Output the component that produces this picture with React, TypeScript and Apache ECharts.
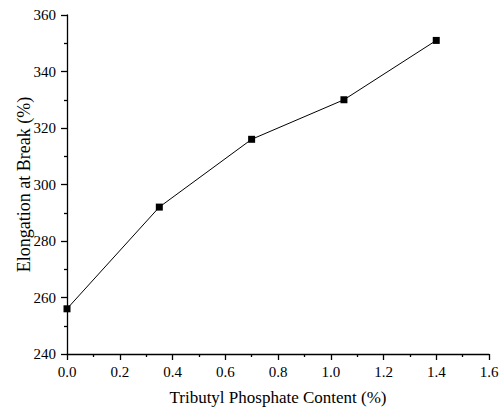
import React, { useEffect, useRef } from "react";
import * as echarts from "echarts";

const xValues = [0.0, 0.35, 0.7, 1.05, 1.4];
const yValues = [256, 292, 316, 330, 351];
const xAxisName = "Tributyl Phosphate Content (%)";
const yAxisName = "Elongation at Break (%)";

export default function App() {
  const ref = useRef<HTMLDivElement>(null);
  useEffect(() => {
    if (!ref.current) return;
    const chart = echarts.init(ref.current, null, { renderer: "svg" });
    const font = "Liberation Serif, Times New Roman, serif";
    const axisCommon = {
      axisLine: { show: true, lineStyle: { color: "#000", width: 1.3 } },
      axisTick: { show: true, inside: false, length: 6, lineStyle: { color: "#000", width: 1.3 } },
      minorTick: { show: true, splitNumber: 2, length: 3, lineStyle: { color: "#000", width: 1.3 } },
      splitLine: { show: false },
      nameMoveOverlap: false,
    };
    chart.setOption({
      animation: false,
      backgroundColor: "#fff",
      textStyle: { fontFamily: font },
      grid: { left: 67, right: 12, top: 15, bottom: 54, outerBoundsMode: "none" },
      xAxis: {
        type: "value",
        min: 0,
        max: 1.6,
        interval: 0.2,
        name: xAxisName,
        nameLocation: "middle",
        nameGap: 35,
        nameTextStyle: { color: "#000", fontFamily: font, fontSize: 17 },
        ...axisCommon,
        axisLabel: {
          color: "#000",
          fontFamily: font,
          fontSize: 15,
          margin: 10,
          formatter: (v: number) => v.toFixed(1),
        },
      },
      yAxis: {
        type: "value",
        min: 240,
        max: 360,
        interval: 20,
        name: yAxisName,
        nameLocation: "middle",
        nameGap: 34,
        nameTextStyle: { color: "#000", fontFamily: font, fontSize: 18 },
        ...axisCommon,
        axisLabel: { color: "#000", fontFamily: font, fontSize: 15, margin: 11 },
      },
      series: [
        {
          type: "line",
          data: xValues.map((x, i) => [x, yValues[i]]),
          symbol: "rect",
          symbolSize: 7,
          itemStyle: { color: "#000" },
          lineStyle: { color: "#000", width: 1 },
        },
      ],
    });
    return () => chart.dispose();
  }, []);
  return (
    <div
      ref={ref}
      style={{ position: "absolute", left: 0, top: 0, width: 501, height: 408 }}
    />
  );
}
